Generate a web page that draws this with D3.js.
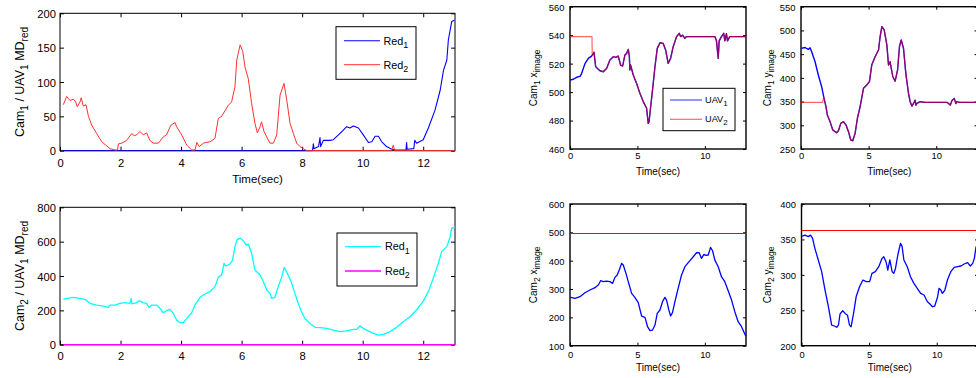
<!DOCTYPE html>
<html>
<head>
<meta charset="utf-8">
<script src="https://cdn.jsdelivr.net/npm/d3@7/dist/d3.min.js"></script>
<style>
  html, body { margin: 0; padding: 0; background: #fff; }
  svg { display: block; }
  text { font-family: "Liberation Sans", Arial, Helvetica, sans-serif; fill: #000; }
</style>
</head>
<body>
<svg id="fig" width="976" height="378"></svg>
<script>
// ---------- tick values ----------
const ticksTimeWide = [0, 2, 4, 6, 8, 10, 12];
const ticksTimeNarrow = [0, 5, 10];
const ticksCam1MD = [0, 50, 100, 150, 200];
const ticksCam2MD = [0, 200, 400, 600, 800];
const ticksCam1x = [460, 480, 500, 520, 540, 560];
const ticksCam1y = [250, 300, 350, 400, 450, 500, 550];
const ticksCam2x = [100, 200, 300, 400, 500, 600];
const ticksCam2y = [200, 250, 300, 350, 400];

// ---------- Cam1 / UAV1 Mahalanobis distance, red marker (time s, value) ----------
const cam1Red1 = [[0.11,0],[8.33,0],[8.35,2],[8.37,10],[8.39,3],[8.54,6],[8.59,19],[8.61,6],[8.7,15],[8.92,15],[9.03,16],[9.2,23],[9.36,30],[9.47,35],[9.58,33],[9.69,36],[9.86,33],[10.02,23],[10.19,12],[10.3,13],[10.41,21],[10.52,21],[10.63,13],[10.79,6],[10.96,2],[11.1,1],[11.43,1],[11.45,12],[11.47,2],[11.69,3],[11.72,15],[11.78,11],[12.0,16],[12.17,33],[12.39,59],[12.56,88],[12.67,117],[12.78,132],[12.83,161],[12.94,188],[13.03,190]];
const cam1Red2 = [[0.11,67],[0.22,79],[0.33,73],[0.44,75],[0.52,71],[0.57,64],[0.66,71],[0.7,77],[0.77,65],[0.86,67],[0.94,50],[1.05,37],[1.21,25],[1.38,13],[1.65,3],[1.82,1],[1.9,1],[1.93,10],[2.04,11],[2.2,15],[2.37,25],[2.45,22],[2.53,23],[2.64,28],[2.75,23],[2.86,26],[2.97,15],[3.08,11],[3.25,11],[3.41,20],[3.52,23],[3.66,37],[3.8,41],[3.85,35],[4.02,23],[4.19,8],[4.35,1],[4.46,1],[4.52,12],[4.6,6],[4.74,11],[4.96,13],[5.12,18],[5.23,47],[5.34,50],[5.56,66],[5.67,71],[5.78,93],[5.84,132],[5.95,154],[6.04,144],[6.11,122],[6.22,105],[6.33,69],[6.44,40],[6.52,26],[6.61,35],[6.66,42],[6.74,28],[6.83,20],[6.94,11],[7.05,11],[7.16,23],[7.27,81],[7.4,98],[7.49,74],[7.6,40],[7.71,25],[7.82,11],[7.93,6],[8.04,3],[8.15,0],[10.95,0],[11.01,8],[11.06,0],[13.05,0]];

// ---------- Cam2 / UAV1 Mahalanobis distance ----------
const cam2Red1 = [[0.11,264],[0.22,270],[0.44,276],[0.66,270],[0.83,264],[0.99,241],[1.21,231],[1.43,225],[1.6,217],[1.65,231],[1.82,231],[1.98,241],[2.15,245],[2.31,241],[2.35,270],[2.38,238],[2.53,245],[2.62,256],[2.75,245],[2.86,241],[2.94,217],[3.03,231],[3.19,231],[3.3,212],[3.41,186],[3.52,198],[3.63,206],[3.74,183],[3.85,144],[3.96,128],[4.07,128],[4.19,153],[4.35,186],[4.46,231],[4.63,276],[4.79,295],[4.96,309],[5.12,338],[5.23,392],[5.34,406],[5.42,474],[5.48,458],[5.62,470],[5.7,493],[5.78,571],[5.86,614],[5.97,619],[6.08,600],[6.15,580],[6.22,586],[6.33,532],[6.44,435],[6.61,406],[6.72,367],[6.83,318],[6.94,299],[6.99,270],[7.1,276],[7.21,338],[7.32,392],[7.41,450],[7.51,416],[7.65,361],[7.76,299],[7.87,241],[7.98,192],[8.09,153],[8.26,124],[8.43,101],[8.59,99],[8.81,95],[9.03,85],[9.25,76],[9.47,80],[9.69,89],[9.8,89],[9.91,109],[10.02,95],[10.13,85],[10.35,66],[10.52,56],[10.68,60],[10.9,76],[11.12,101],[11.34,134],[11.56,163],[11.78,202],[12.0,254],[12.17,309],[12.33,386],[12.5,474],[12.61,542],[12.78,571],[12.89,629],[12.94,678],[13.05,683]];
const cam2Red2 = [[0.11,0],[13.05,0]];

// ---------- Cam1 image x (px) ----------
const cam1xUav1Start = [[0,508.5],[0.25,509],[0.49,510.4],[0.74,511],[0.86,513],[1.11,520],[1.36,523.7],[1.6,525.3],[1.73,527]];
const cam1xUav2Start = [[0,539],[1.63,539],[1.65,526],[1.73,527]];
const cam1xShared = [[1.73,527],[1.78,528],[1.9,518],[2.02,516.7],[2.22,515],[2.47,514.3],[2.72,516.7],[2.96,522.5],[3.21,524.9],[3.4,524.4],[3.58,525.3],[3.75,519],[3.9,518.3],[4.07,526],[4.2,527.2],[4.32,530],[4.4,525.3],[4.44,515.5],[4.49,519],[4.69,512],[4.94,506],[5.19,499],[5.43,493.3],[5.68,488.6],[5.8,478],[5.86,479],[5.98,489.7],[6.12,501.5],[6.3,517.8],[6.47,530.7],[6.67,534.7],[6.91,534.2],[7.09,529.6],[7.28,520.2],[7.46,523.7],[7.65,531.9],[7.9,538.9],[8.1,541.3],[8.2,539],[8.35,540],[8.52,537.8],[8.64,539],[10.74,539],[10.86,536],[10.99,523.7],[11.06,536],[11.23,539],[11.4,541.3],[11.48,536],[11.6,541],[11.68,536],[11.85,539],[13.05,539]];

// ---------- Cam1 image y (px) ----------
const cam1yUav1Start = [[0,462],[0.3,464],[0.54,460],[0.67,463.6],[0.79,455],[1.04,434],[1.28,406],[1.53,381],[1.68,360]];
const cam1yUav2Start = [[0,348.3],[1.6,348.3],[1.68,360]];
const cam1yShared = [[1.68,360],[1.85,339],[1.95,321.6],[2.15,307.6],[2.35,290],[2.52,286.5],[2.64,284.4],[2.77,288.6],[2.94,304],[3.14,307.6],[3.33,300.5],[3.51,286.5],[3.68,269],[3.83,267.5],[4.0,283],[4.17,314.6],[4.37,339],[4.62,378],[4.86,385],[5.06,392],[5.23,427],[5.48,444.6],[5.73,458.6],[5.85,486.7],[5.98,508],[6.15,501],[6.35,469],[6.47,427],[6.59,434],[6.64,425],[6.79,402.4],[6.96,393],[7.14,416.5],[7.28,465.7],[7.41,479.7],[7.58,462],[7.75,409.5],[7.95,367],[8.07,349.7],[8.2,340.6],[8.32,346],[8.44,353],[8.5,342.7],[8.57,346],[8.81,349.7],[9.2,348.3],[10.8,348.3],[10.91,346],[11.04,342.7],[11.16,352],[11.33,356.7],[11.45,346],[11.53,350],[11.7,348.3],[13.05,348.3]];

// ---------- Cam2 image x (px) ----------
const cam2xUav1 = [[0,270.6],[0.05,270.6],[0.37,267],[0.74,273],[1.11,287],[1.48,296.5],[1.85,304.7],[2.1,314],[2.27,329.4],[2.47,326],[2.72,328],[2.96,326],[3.16,320],[3.33,341],[3.5,349.4],[3.65,367],[3.83,390.6],[3.95,384.7],[4.15,355.3],[4.32,326],[4.57,284.7],[4.81,270.6],[5.06,251.8],[5.31,204.7],[5.56,200],[5.75,167],[5.93,152.9],[6.12,155.3],[6.3,172.9],[6.47,214],[6.67,226],[6.86,255.3],[7.04,270.6],[7.16,261],[7.33,226],[7.46,204.7],[7.6,216.5],[7.78,255.3],[8.02,302.4],[8.27,349.4],[8.52,378.8],[8.89,400],[9.14,414],[9.38,428],[9.58,428],[9.75,408],[9.93,422],[10.07,418.8],[10.25,420],[10.42,447],[10.57,435],[10.74,402],[10.99,378.8],[11.23,343.5],[11.48,326],[11.73,294],[11.98,261],[12.22,220],[12.47,184.7],[12.72,167],[12.96,141],[13.05,134]];
const cam2xUav2 = [[0,496.5],[13.05,496.5]];

// ---------- Cam2 image y (px) ----------
const cam2yUav1 = [[0,355],[0.07,354.8],[0.25,356],[0.5,354],[0.67,356],[0.82,351.5],[0.99,337.4],[1.24,321],[1.49,304.5],[1.74,278.6],[1.99,255],[2.23,229],[2.43,227.8],[2.61,226],[2.73,229],[2.85,244.7],[3.05,249.4],[3.23,245.6],[3.4,243],[3.55,229],[3.67,226.8],[3.85,245.6],[4.04,269],[4.29,283.3],[4.54,292.7],[4.79,290.4],[5.04,290.4],[5.21,302],[5.46,304.5],[5.71,311.5],[5.96,323.3],[6.08,325.6],[6.25,318.6],[6.38,306.8],[6.53,321],[6.7,304.5],[6.82,302],[6.95,309],[7.12,328],[7.32,344.5],[7.44,339.8],[7.57,321],[7.82,311.5],[8.06,297.4],[8.31,288],[8.56,281],[8.81,273.9],[9.06,271.5],[9.31,262],[9.5,258.8],[9.68,255],[9.85,256],[10.05,268],[10.17,281],[10.3,278.6],[10.42,273.9],[10.6,278.6],[10.79,292.7],[11.04,304.5],[11.29,310.6],[11.54,311.5],[11.79,312.5],[12.03,315.3],[12.28,317.2],[12.48,312.5],[12.66,316.2],[12.78,323.3],[12.9,338.8],[13.05,345]];
const cam2yUav2 = [[0,364],[13.05,364]];

// ---------- drawing ----------
const svg = d3.select("#fig");
let clipCount = 0;

// text with subscript parts: parts = [[text, isSub], ...]
function richText(sel, parts, size, subSize, shift) {
  let down = false;
  parts.forEach(([s, sub]) => {
    const t = sel.append("tspan").text(s);
    if (sub) {
      t.attr("font-size", subSize);
      if (!down) { t.attr("dy", shift); down = true; }
    } else {
      t.attr("font-size", size);
      if (down) { t.attr("dy", -shift); down = false; }
    }
  });
}

function drawPanel(o) {
  const x = d3.scaleLinear().domain(o.xDomain).range([o.left, o.right]);
  const y = d3.scaleLinear().domain(o.yDomain).range([o.bottom, o.top]);
  const g = svg.append("g");

  const id = "clip" + (clipCount++);
  svg.append("clipPath").attr("id", id).append("rect")
    .attr("x", o.left - 1).attr("y", o.top - 1)
    .attr("width", o.right - o.left + 2).attr("height", o.bottom - o.top + 2);

  // axes: ticks point inward on all four sides
  const styleAxis = (a) => {
    a.select(".domain").remove();
    a.selectAll("line").attr("stroke", "#000").attr("stroke-width", 1);
    a.selectAll("text").attr("font-size", o.tickFont).attr("fill", "#000")
      .style("font-family", '"Liberation Sans", Arial, sans-serif');
  };
  const bottomAxis = g.append("g").attr("transform", `translate(0,${o.bottom})`)
    .call(d3.axisBottom(x).tickValues(o.xTicks).tickSize(-o.tickLen).tickPadding(o.xPad).tickFormat(d3.format("d")))
    .call(styleAxis);
  g.append("g").attr("transform", `translate(0,${o.top})`)
    .call(d3.axisTop(x).tickValues(o.xTicks).tickSize(-o.tickLen).tickFormat(""))
    .call(styleAxis);
  const leftAxis = g.append("g").attr("transform", `translate(${o.left},0)`)
    .call(d3.axisLeft(y).tickValues(o.yTicks).tickSize(-o.tickLen).tickPadding(o.yPad).tickFormat(d3.format("d")))
    .call(styleAxis);
  g.append("g").attr("transform", `translate(${o.right},0)`)
    .call(d3.axisRight(y).tickValues(o.yTicks).tickSize(-o.tickLen).tickFormat(""))
    .call(styleAxis);
  bottomAxis.selectAll(".tick text").attr("dy", "0.72em");
  leftAxis.selectAll(".tick text").attr("dy", "0.36em");

  // box
  g.append("rect").attr("x", o.left).attr("y", o.top)
    .attr("width", o.right - o.left).attr("height", o.bottom - o.top)
    .attr("fill", "none").attr("stroke", "#000").attr("stroke-width", o.boxWidth);

  // series
  const lines = g.append("g").attr("clip-path", `url(#${id})`);
  o.series.forEach(s => {
    // constant reference levels are snapped to the pixel grid so they stay crisp
    const yy = s.snap ? (v => Math.round(y(v)) + 0.5) : y;
    const line = d3.line().x(d => x(d[0])).y(d => yy(d[1]));
    lines.append("path").datum(s.data).attr("d", line)
      .attr("fill", "none").attr("stroke", s.color)
      .attr("stroke-opacity", s.opacity || 1)
      .attr("stroke-width", s.width).attr("stroke-linejoin", "round");
  });

  // y label (rotated)
  const yl = g.append("text")
    .attr("transform", `translate(${o.ylabelX},${(o.top + o.bottom) / 2}) rotate(-90)`)
    .attr("text-anchor", "middle");
  richText(yl, o.ylabel, o.labelFont, o.labelSub, o.subShift);

  if (o.xlabel) {
    g.append("text").attr("x", (o.left + o.right) / 2).attr("y", o.xlabelY)
      .attr("text-anchor", "middle").attr("font-size", o.xlabelFont).text(o.xlabel);
  }

  if (o.legend) {
    const L = o.legend;
    g.append("rect").attr("x", L.x0).attr("y", L.y0)
      .attr("width", L.x1 - L.x0).attr("height", L.y1 - L.y0)
      .attr("fill", "#fff").attr("stroke", "#000").attr("stroke-width", 1);
    L.items.forEach((it, i) => {
      const ly = L.rows[i];
      g.append("line").attr("x1", L.lx0).attr("x2", L.lx1).attr("y1", ly).attr("y2", ly)
        .attr("stroke", it.color).attr("stroke-opacity", it.opacity || 1).attr("stroke-width", it.width);
      const t = g.append("text").attr("x", L.tx).attr("y", ly + L.textDy);
      richText(t, it.label, L.font, L.subFont, L.subShift);
    });
  }
}

const MDlabel = (n) => [["Cam", false], [String(n), true], [" / UAV", false], ["1", true], [" MD", false], ["red", true]];
const imgLabel = (n, axis) => [["Cam", false], [String(n), true], [" " + axis, false], ["image", true]];

const wideCommon = {
  left: 60, right: 455, xDomain: [0, 13.05], xTicks: ticksTimeWide,
  tickFont: 11.2, tickLen: 4, yPad: 4, boxWidth: 1,
  ylabelX: 24, labelFont: 12.5, labelSub: 10, subShift: 3.5
};
const narrowCommon = {
  xDomain: [0, 13.05], xTicks: ticksTimeNarrow,
  tickFont: 9.4, tickLen: 3, yPad: 5.5, boxWidth: 1.4,
  labelFont: 10, labelSub: 8.5, subShift: 3
};

// Cam1 Mahalanobis distance
drawPanel(Object.assign({}, wideCommon, {
  top: 13.3, bottom: 150.7, yDomain: [0, 200], yTicks: ticksCam1MD, xPad: 8,
  series: [
    { data: cam1Red1, color: "#0000ff", width: 1.1 },
    { data: cam1Red2, color: "#ff3030", width: 1 }
  ],
  ylabel: MDlabel(1), xlabel: "Time(sec)", xlabelY: 182.5, xlabelFont: 11.5,
  legend: {
    x0: 336, y0: 26.7, x1: 416, y1: 79.3, lx0: 344, lx1: 380, tx: 383.5,
    rows: [40.7, 64.7], textDy: 4, font: 10.8, subFont: 9, subShift: 3.5,
    items: [
      { label: [["Red", false], ["1", true]], color: "#0000ff", width: 1.1 },
      { label: [["Red", false], ["2", true]], color: "#ff3030", width: 1 }
    ]
  }
}));

// Cam2 Mahalanobis distance
drawPanel(Object.assign({}, wideCommon, {
  top: 207.3, bottom: 344.7, yDomain: [0, 800], yTicks: ticksCam2MD, xPad: 7.5,
  series: [
    { data: cam2Red1, color: "#00ffff", width: 1.3 },
    { data: cam2Red2, color: "#ff00ff", width: 1.6 }
  ],
  ylabel: MDlabel(2),
  legend: {
    x0: 337, y0: 233, x1: 417, y1: 286, lx0: 345, lx1: 381, tx: 385,
    rows: [246.7, 271], textDy: 3.5, font: 10.8, subFont: 9, subShift: 3.5,
    items: [
      { label: [["Red", false], ["1", true]], color: "#00ffff", width: 1.3 },
      { label: [["Red", false], ["2", true]], color: "#ff00ff", width: 1.6 }
    ]
  }
}));

// Cam1 image x
drawPanel(Object.assign({}, narrowCommon, {
  left: 570, right: 746, top: 6.7, bottom: 149, yDomain: [460, 560], yTicks: ticksCam1x, xPad: 3.3,
  series: [
    { data: cam1xUav1Start.concat(cam1xShared), color: "#0000ff", width: 1.4 },
    { data: cam1xUav2Start.concat(cam1xShared), color: "#ff0000", width: 1.2, opacity: 0.6 }
  ],
  ylabel: imgLabel(1, "x"), ylabelX: 537, xlabel: "Time(sec)", xlabelY: 174.5, xlabelFont: 10,
  legend: {
    x0: 663, y0: 88.3, x1: 735, y1: 130.7, lx0: 670, lx1: 702, tx: 705,
    rows: [100, 119.3], textDy: 3, font: 9.2, subFont: 8, subShift: 3,
    items: [
      { label: [["UAV", false], ["1", true]], color: "#0000ff", width: 1.4, opacity: 0.6 },
      { label: [["UAV", false], ["2", true]], color: "#ff0000", width: 1.2, opacity: 0.6 }
    ]
  }
}));

// Cam1 image y
drawPanel(Object.assign({}, narrowCommon, {
  left: 801, right: 977.5, top: 6.7, bottom: 149, yDomain: [250, 550], yTicks: ticksCam1y, xPad: 3.3,
  series: [
    { data: cam1yUav1Start.concat(cam1yShared), color: "#0000ff", width: 1.4 },
    { data: cam1yUav2Start.concat(cam1yShared), color: "#ff0000", width: 1.2, opacity: 0.6 }
  ],
  ylabel: imgLabel(1, "y"), ylabelX: 771, xlabel: "Time(sec)", xlabelY: 174.5, xlabelFont: 10
}));

// Cam2 image x
drawPanel(Object.assign({}, narrowCommon, {
  left: 570, right: 746, top: 204, bottom: 345.7, yDomain: [100, 600], yTicks: ticksCam2x, xPad: 5.3,
  series: [
    { data: cam2xUav1, color: "#0000ff", width: 1.3 },
    { data: cam2xUav2, color: "#ff0000", width: 1, snap: true }
  ],
  ylabel: imgLabel(2, "x"), ylabelX: 537, xlabel: "Time(sec)", xlabelY: 371, xlabelFont: 10
}));

// Cam2 image y
drawPanel(Object.assign({}, narrowCommon, {
  left: 801.5, right: 978, top: 204, bottom: 345.7, yDomain: [200, 400], yTicks: ticksCam2y, xPad: 5.3,
  series: [
    { data: cam2yUav1, color: "#0000ff", width: 1.3 },
    { data: cam2yUav2, color: "#ff0000", width: 1, snap: true }
  ],
  ylabel: imgLabel(2, "y"), ylabelX: 771, xlabel: "Time(sec)", xlabelY: 371, xlabelFont: 10
}));
</script>
</body>
</html>
